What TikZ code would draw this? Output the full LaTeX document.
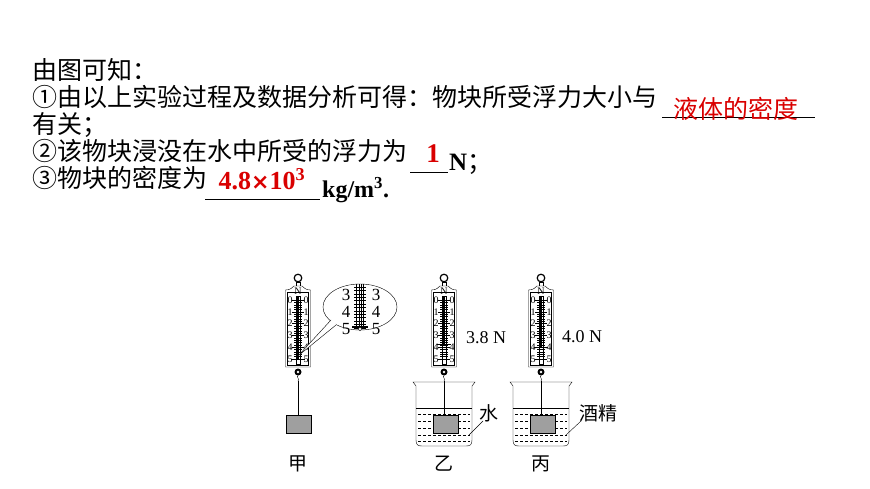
\documentclass[tikz,border=0pt]{standalone}
\usepackage{fontspec}
\setmainfont{Liberation Serif}
\newfontfamily\cjk{Noto Sans CJK SC}
\newfontfamily\sym{DejaVu Sans}
\begin{document}
\begin{tikzpicture}[x=1pt,y=-1pt,
  txt/.style={anchor=base west,inner sep=0pt,font=\cjk\fontsize{25}{25}\selectfont},
  red/.style={anchor=base,inner sep=0pt,text=red!85!black},
  num/.style={inner sep=0pt,font=\fontsize{10}{10}\selectfont},
  lab/.style={inner sep=0pt,font=\cjk\fontsize{19}{19}\selectfont},
  rd/.style={inner sep=0pt,font=\fontsize{17}{17}\selectfont}]
\useasboundingbox (0,0) rectangle (870,489);
% text
\node[txt] (l1) at (32,80) {由图可知：};
\node[txt] (l2) at (32,107) {①由以上实验过程及数据分析可得：物块所受浮力大小与};
\draw[line width=1pt] (662,118) -- (815,118);
\node[red,font=\cjk\fontsize{25}{25}\selectfont] (a1) at (736,119) {液体的密度};
\node[txt] (l3) at (32,134) {有关；};
\node[txt] (l4) at (32,161) {②该物块浸没在水中所受的浮力为};
\draw[line width=1pt] (410,173) -- (448,173);
\node[red,font=\bfseries\fontsize{27}{27}\selectfont] (a2) at (433,163) {1};
\node[anchor=base west,inner sep=0pt,font=\bfseries\fontsize{25}{25}\selectfont] (n1) at (449,171) {N};
\node[txt] at (n1.base east) {；};
\node[txt] (l5) at (32,188) {③物块的密度为};
\draw[line width=1pt] (205,200) -- (320,200);
\node[red,font=\bfseries\fontsize{26}{26}\selectfont] (a3) at (262,190) {4.8{\sym\fontsize{22}{22}\selectfont ×}10$^{\mathbf{3}}$};
\node[anchor=base west,inner sep=0pt,font=\bfseries\fontsize{24}{24}\selectfont] (u) at (322,198) {kg/m$^{\mathbf{3}}$.};
% spring scale macro
\newcommand\sscale[3]{%
\begin{scope}[shift={(#1,#2)}]
 \draw[line width=1.2pt] (0,0) circle (3.8);
 \draw (-2,3.8) rectangle (2,10);
 \draw[fill=white] (-12.5,12) -- (-12.5,89) -- (12.5,89) -- (12.5,12) .. controls (8,12) and (6,10) .. (4,8) -- (-4,8) .. controls (-6,10) and (-8,12) .. (-12.5,12) -- cycle;
 \draw (-10.5,14) rectangle (10.5,87);
 \node[num] at (0,13) {N};
 \foreach \n in {0,...,5}{
   \node[num] at (-8,{22+\n*11.8}) {\n};
   \node[num] at (8,{22+\n*11.8}) {\n};
   \draw (-6,{22+\n*11.8}) -- (6,{22+\n*11.8});}
 \foreach \k in {0,...,25}{\draw[line width=0.3pt] (-4,{22+\k*2.36}) -- (4,{22+\k*2.36});}
 \draw (-2,18) rectangle (2,86);
 \fill (-1.2,18) rectangle (1.2,{22+#3*11.8});
 \draw[line width=1pt] (-7,{22+#3*11.8}) -- (7,{22+#3*11.8});
 \fill (0,94) circle (3.5); \fill[white] (0,94) circle (1.4);
 \draw (0,97.5) .. controls (-2,99) and (2,101) .. (0,103);
\end{scope}}
\newcommand\beaker[1]{%
\begin{scope}[shift={(#1,0)}]
 \draw (-31,382) -- (-28,386) -- (-28,440) .. controls (-28,445) and (-26,446) .. (-22,446) -- (22,446) .. controls (26,446) and (28,445) .. (28,440) -- (28,386) -- (31,382) -- cycle;
 \draw (-28,408) -- (28,408);
 \foreach \yy in {414,421,428,435,441}{\draw[dash pattern=on 3pt off 2pt] (-26,\yy) -- (26,\yy);}
 \draw[fill=gray!75] (-11,415) rectangle (14,433);
 \draw (0,381) -- (0,415);
\end{scope}}
% 甲
\sscale{298}{278}{5}
\draw (298,381) -- (298,415);
\draw[fill=gray!75] (286,415) rectangle (311,433);
\node[lab] (jia) at (298,464) {甲};
\draw[fill=white] (360,307) ellipse (37 and 23);
\draw[fill=white] (331,320) -- (298,356) -- (336,325);
\draw[white,line width=1.5pt] (331.5,320.5) -- (335.5,324.5);
\begin{scope}
\clip (360,307) ellipse (37 and 23);
\draw (356.5,280) rectangle (363.5,328); \draw (358.7,280) -- (358.7,328); \draw (361.3,280) -- (361.3,328);
\foreach \k in {0,...,12}{\draw[line width=0.3pt] (354,{287+\k*3.4}) -- (366,{287+\k*3.4});}
\end{scope}
\node[rd] at (346,295) {3}; \node[rd] at (376,295) {3};
\node[rd] at (346,312) {4}; \node[rd] at (376,312) {4};
\node[rd] at (346,329) {5}; \node[rd] at (376,329) {5};
\draw[line width=1.2pt] (352,327) -- (368,327);
\draw[fill=white] (360,329) circle (1.8);
% 乙
\sscale{444}{278}{3.8}
\beaker{444}
\node[anchor=west,inner sep=0pt,font=\fontsize{18}{18}\selectfont] at (466,338) {3.8 N};
\node[lab] (shui) at (489,413) {水};
\draw (469,435) -- (483,421);
\node[lab] (yi) at (444,464) {乙};
% 丙
\sscale{541}{278}{4}
\beaker{541}
\node[anchor=west,inner sep=0pt,font=\fontsize{18}{18}\selectfont] at (562,337) {4.0 N};
\node[lab] (jj) at (598,413) {酒精};
\draw (566,435) -- (581,421);
\node[lab] (bing) at (541,464) {丙};
\end{tikzpicture}
\end{document}
